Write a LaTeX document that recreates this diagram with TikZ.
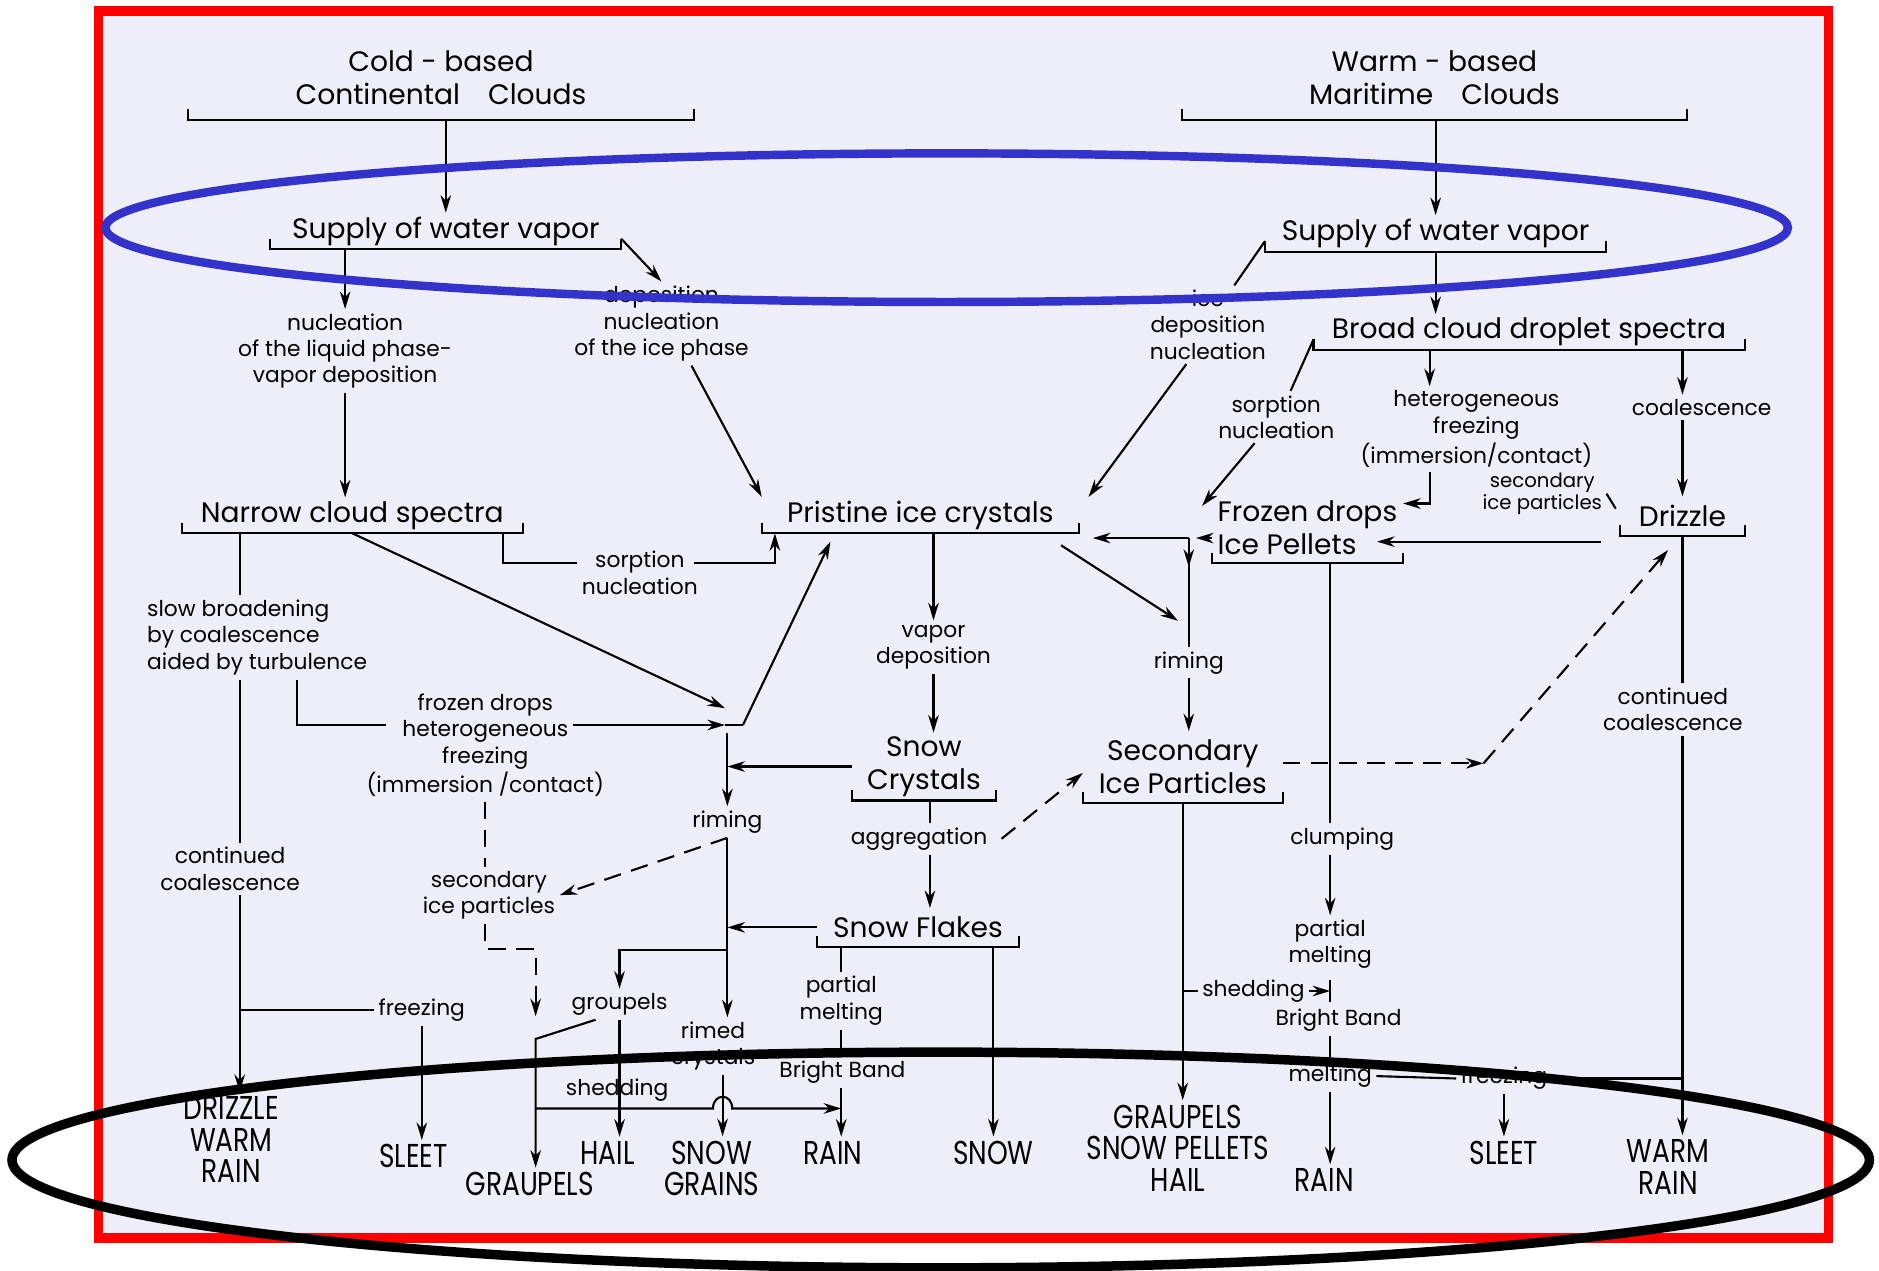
\documentclass[tikz,border=0pt]{standalone}
\usepackage{fontspec}
\setmainfont{Poppins}
\newfontfamily\capfont[FakeStretch=0.8]{Poppins}
\usetikzlibrary{positioning,calc,arrows.meta}
\newlength\pxu
\setlength\pxu{0.11983mm}
\definecolor{paper}{RGB}{238,238,248}
\definecolor{ovalblue}{RGB}{51,51,204}

\tikzset{
  big/.style={font=\fontsize{8}{9.4}\selectfont, align=center, inner sep=1pt},
  lab/.style={font=\fontsize{6.2}{7.5}\selectfont, align=center, inner sep=1pt},
  fall/.style={font=\capfont\fontsize{9.4}{9}\selectfont, align=center, inner sep=1pt},
  brk/.style={big, anchor=south, inner xsep=0pt, inner ysep=0.8pt, minimum width=#1\pxu,
    append after command={\pgfextra{\draw ([yshift=3pt]\tikzlastnode.south west) -- (\tikzlastnode.south west)
      -- (\tikzlastnode.south east) -- ([yshift=3pt]\tikzlastnode.south east);}}},
  dsh/.style={dash pattern=on 5pt off 3pt},
}

\begin{document}
\begin{tikzpicture}[x=0.11983mm, y=-0.11983mm, line width=0.6pt, >={Stealth[length=5pt,width=3pt]}]
\useasboundingbox (0,0) rectangle (1568,1060);
\fill[white] (0,0) rectangle (1568,1060);
\fill[paper] (82,9) rectangle (1526,1033);
\draw[red, line width=2.7pt] (82,9) rectangle (1526,1033);

% bracketed stages
\node[brk=420, inner ysep=3.9pt] (cold) at (368,100) {Cold - based\\Continental\quad Clouds};
\node[brk=420, inner ysep=3.9pt] (warm) at (1197,100) {Warm - based\\Maritime\quad Clouds};
\node[brk=291] (supL) at (372,208) {Supply of water vapor};
\node[brk=283] (supR) at (1198,210) {Supply of water vapor};
\node[brk=358] (broad) at (1276,292) {Broad cloud droplet spectra};
\node[brk=283] (narrow) at (294,445) {Narrow cloud spectra};
\node[brk=263] (prist) at (768,445) {Pristine ice crystals};
\node[brk=158, align=left, inner ysep=2.2pt] (frozen) at (1091,470) {Frozen drops\\Ice Pellets};
\node[brk=102, inner ysep=2.2pt] (drizzle) at (1404,447) {Drizzle};
\node[brk=118] (snowc) at (771,668) {Snow\\Crystals};
\node[brk=165, inner ysep=2.2pt] (secip) at (987,670) {Secondary\\Ice Particles};
\node[brk=167, inner ysep=2.2pt] (snowf) at (766,790) {Snow Flakes};

% process labels
\node[lab] (nucL) at (288,293) {nucleation\\of the liquid phase-\\vapor deposition};
\node[lab] (depI) at (552,270) {deposition\\nucleation\\of the ice phase};
\node[lab] (iceD) at (1008,271) {ice\\deposition\\nucleation};
\node[lab] (sorR) at (1065,348) {sorption\\nucleation};
\node[lab] (hetR) at (1232,358) {heterogeneous\\freezing\\(immersion/contact)};
\node[lab] (coalR) at (1420,340) {coalescence};
\node[lab, font=\fontsize{5.6}{6.2}\selectfont] (secR) at (1287,412) {secondary\\ice particles};
\node[lab] (sorL) at (534,478) {sorption\\nucleation};
\node[lab, align=left, anchor=west] (slow) at (119,532) {slow broadening\\by coalescence\\aided by turbulence};
\node[lab] (frzL) at (405,622) {frozen drops\\heterogeneous\\freezing\\(immersion /contact)};
\node[lab] (vapd) at (779,540) {vapor\\deposition};
\node[lab] (rimR) at (992,553) {riming};
\node[lab] (contR) at (1396,592) {continued\\coalescence};
\node[lab] (rimL) at (607,686) {riming};
\node[lab] (aggr) at (767,700) {aggregation};
\node[lab] (contL) at (192,725) {continued\\coalescence};
\node[lab] (secL) at (408,747) {secondary\\ice particles};
\node[lab] (clump) at (1120,700) {clumping};
\node[lab] (partR) at (1110,788) {partial\\melting};
\node[lab] (partL) at (702,835) {partial\\melting};
\node[lab] (shedR) at (1046,827) {shedding};
\node[lab] (bbR) at (1117,851) {Bright Band};
\node[lab] (frzB) at (352,843) {freezing};
\node[lab] (groupels) at (517,838) {groupels};
\node[lab] (rimed) at (595,873) {rimed\\crystals};
\node[lab] (shedL) at (515,910) {shedding};
\node[lab] (bbL) at (703,895) {Bright Band};
\node[lab] (melt) at (1110,898) {melting};
\node[lab] (frzR) at (1255,900) {freezing};

% precipitation types
\node[fall] (fDrz) at (193,951) {DRIZZLE\\WARM\\RAIN};
\node[fall] (fSleetL) at (345,965) {SLEET};
\node[fall] (fGraupL) at (442,988) {GRAUPELS};
\node[fall] (fHail) at (507,962) {HAIL};
\node[fall] (fSnowG) at (594,975) {SNOW\\GRAINS};
\node[fall] (fRainL) at (695,962) {RAIN};
\node[fall] (fSnow) at (829,962) {SNOW};
\node[fall] (fGSH) at (983,958) {GRAUPELS\\SNOW PELLETS\\HAIL};
\node[fall] (fRainR) at (1105,985) {RAIN};
\node[fall] (fSleetR) at (1255,962) {SLEET};
\node[fall] (fWarm) at (1392,974) {WARM\\RAIN};

% junctions
\coordinate (xL) at (200,0);
\coordinate (xR) at (607,0);
\coordinate (xC) at (776,0);
\coordinate (xH) at (1193,0);
\coordinate (xF) at (1110,0);
\coordinate (jA) at (605,591);
\coordinate (jB) at (620,605);
\coordinate (jC) at (607,612);
\coordinate (jG) at (607,793);
\coordinate (dG) at (447,792);
\coordinate (sh0) at (447,925);
\coordinate (jP) at (992,449);
\coordinate (rT) at (983,518);
\coordinate (tkR) at (1110,827);
\coordinate (dk) at (1238,637);

% top of the chart
\draw[->] (cold.south -| supL) -- (supL);
\draw[->] (warm.south -| supR) -- (supR);
\draw[->] (supL.south -| nucL) -- (nucL);
\draw[->] ([yshift=3pt]supL.south east) -- (depI.north);
\draw[->] (nucL.south) -- (nucL.south |- narrow.north);
\draw[->] ([xshift=25\pxu]depI.south) -- (prist.north west);
\draw ([yshift=3pt]supR.south west) -- ([xshift=22\pxu]iceD.north);
\draw[->] ([xshift=-18\pxu]iceD.south) -- ([xshift=8\pxu]prist.north east);
\draw[->] (supR.south) -- (supR.south |- broad.north);
\draw ([yshift=3pt]broad.south west) -- ([xshift=12\pxu]sorR.north);
\draw[->] ([xshift=-18\pxu]sorR.south) -- ([xshift=-8\pxu,yshift=-12\pxu]frozen.north west);
\draw[->] (broad.south -| xH) -- (hetR.north -| xH);
\draw[->] (broad.south -| drizzle) -- (coalR.north -| drizzle);
\draw[->] (coalR.south -| drizzle) -- (drizzle);
\draw[->] (hetR.south -| xH) |- ([yshift=-10\pxu]frozen.north east);
\draw[dsh] (secR.east) -- (drizzle.west);
\draw[->] ([xshift=-16\pxu,yshift=-5\pxu]drizzle.south west) -- ++(-187,0);

% pristine ice and the right middle
\draw[->] (frozen.west |- jP) -- ([xshift=6\pxu]jP);
\draw[->] (jP) -- ++(-80,0);
\draw[->] (jP) -- ++(0,24);
\draw (jP) -- (rimR.north -| jP);
\draw[->] (rimR.south) -- (rimR.south |- secip.north);
\draw[->] ([xshift=-15\pxu,yshift=-10\pxu]prist.south east) -- (rT);
\draw[->] (prist.south -| vapd) -- (vapd);
\draw[->] (vapd.south) -- (vapd.south |- snowc.north);
\draw (snowc.south -| xC) -- (aggr.north -| xC);
\draw[->] (aggr.south -| xC) -- (snowf.north -| xC);
\draw[dsh,->] ([xshift=8\pxu]aggr.east) -- ([yshift=25\pxu]secip.south west);
\draw[->] (secip.south) -- (secip.south |- fGSH.north);
\draw (secip.south |- shedR) -- (shedR.west);
\draw[->] (shedR.east) -- (tkR);
\draw ([yshift=9\pxu]tkR) -- ([yshift=-9\pxu]tkR);
\draw[dsh,->] (secip.east |- dk) -- (dk);
\draw[dsh,->] (dk) -- ([xshift=-12\pxu,yshift=-12\pxu]drizzle.south);

% frozen drops and drizzle columns
\draw (frozen.south -| xF) -- (clump.north -| xF);
\draw[->] (clump.south -| xF) -- (partR.north -| xF);
\draw (bbR.south -| xF) -- (melt.north -| xF);
\draw[->] (melt.south -| xF) -- (fRainR.north -| xF);
\draw (melt.east) -- (frzR.west);
\draw (frzR.east) -- (frzR.east -| drizzle.south);
\draw[->] (frzR.south) -- (frzR.south |- fSleetR.north);
\draw (drizzle.south) -- (drizzle.south |- contR.north);
\draw[->] (drizzle.south |- contR.south) -- (drizzle.south |- fWarm.north);

% left column
\draw (narrow.south -| xL) -- (slow.north -| xL);
\draw (slow.south -| xL) -- (contL.north -| xL);
\draw[->] (contL.south -| xL) -- (fDrz.north -| xL);
\draw (frzB.west -| xL) -- (frzB.west);
\draw[->] (frzB.south) -- (frzB.south |- fSleetL.north);
\draw[->] (narrow.south) -- (jA);
\draw (slow.south -| 248,0) |- ($(frzL.west |- jB)+(20,0)$);
\draw[->] ($(frzL.east |- jB)+(-30,0)$) -- (jB -| jA);
\draw (jB -| jA) -- (jB);
\draw[->] (jB) -- ([xshift=-75\pxu,yshift=-7\pxu]prist.south);
\draw (narrow.south -| 420,0) |- ($(sorL.west)+(0,-8)$);
\draw[->] ($(sorL.east)+(-7,-8)$) -| ($(prist.south west)+(11,0)$);

% riming column
\draw[->] (jC) -- (rimL.north -| xR);
\draw[->] (snowc.west) -- (snowc.west -| xR);
\draw[->] (snowf.west) -- (snowf.west -| xR);
\draw[->] (rimL.south -| xR) -- (rimed.north -| xR);
\draw[->] (jG) -| (groupels.north);
\draw[dsh,->] (rimL.south -| xR) -- (secL.east);
\draw[dsh] (frzL.south) -- (frzL.south |- secL.north);
\draw[dsh,->] (frzL.south |- secL.south) |- (dG) -- ++(0,56);
\draw[->] (groupels.south) -- (groupels.south |- fHail.north);
\draw[->] ($(groupels.south)+(-20,0)$) -- (447,867) -- (fGraupL.north -| dG);
\draw[->] (sh0) -- (595,925) .. controls (595,912) and (611,912) .. (611,925) -- (partL.south |- sh0);
\draw[->] (rimed.south -| 603,0) -- (fSnowG.north -| 603,0);
\draw (snowf.south -| partL) -- (partL.north);
\draw (partL.south) -- (partL.south |- bbL.north);
\draw[->] (bbL.south -| partL) -- (fRainL.north -| partL);
\draw[->] (snowf.south -| fSnow) -- (fSnow.north);

% highlight ovals
\draw[ovalblue, line width=2.4pt] (790,190) ellipse [x radius=702, y radius=62];
\draw[black, line width=2.7pt] (785,968) ellipse [x radius=775, y radius=90];
\end{tikzpicture}
\end{document}
